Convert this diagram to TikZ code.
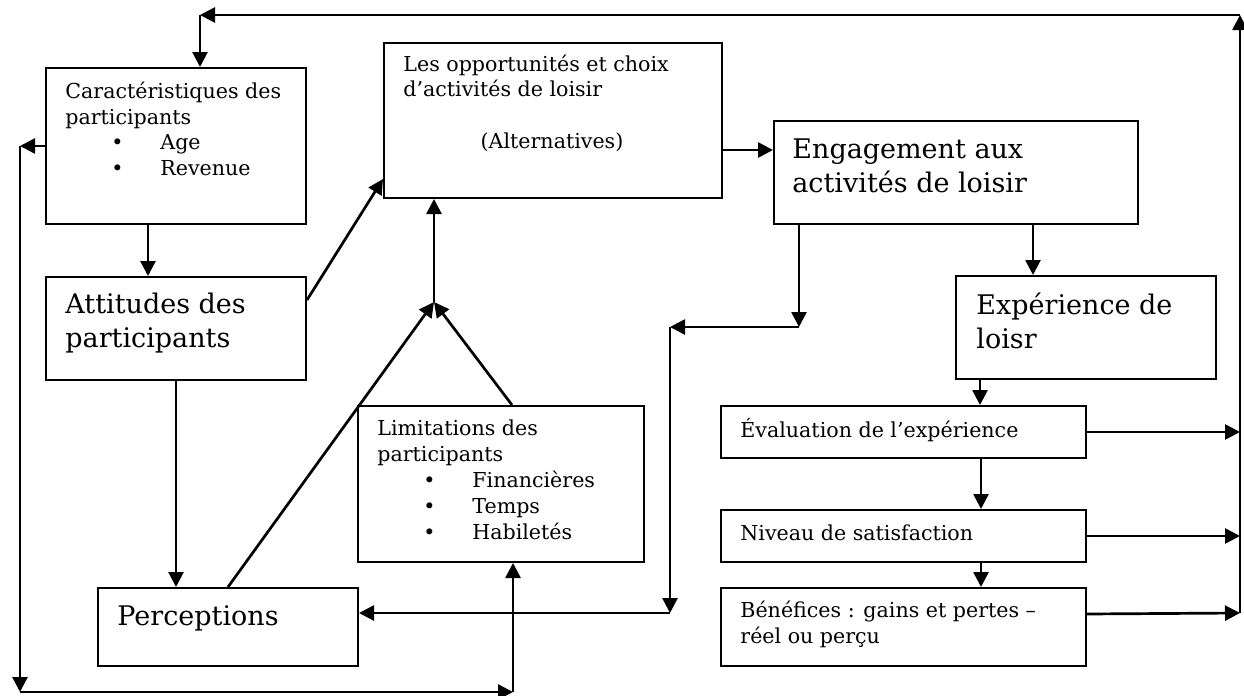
\documentclass[tikz,border=0pt]{standalone}
\usepackage{fontspec}
\setmainfont{DejaVu Serif}
\usepackage{tikz}
\usetikzlibrary{arrows.meta}
\usetikzlibrary{positioning}
\usetikzlibrary{calc}

\newcommand{\puce}[1]{\hspace*{23pt}\makebox[24.5pt][l]{\textbullet}#1}

\begin{document}
\begin{tikzpicture}[x=0.5pt, y=-0.5pt,
    box/.style={draw, line width=1pt, anchor=north west, inner sep=0pt},
    small/.style={font=\fontsize{10.3}{12.75}\selectfont, align=left, inner sep=0pt, anchor=base west},
    big/.style={font=\fontsize{13.5}{17}\selectfont, align=left, inner sep=0pt, anchor=base west},
    link/.style={line width=1.35pt, -{Triangle[length=7.5pt,width=7.5pt]}}]

    \useasboundingbox (0,0) rectangle (1244,696);

    % boxes
    \node[box, minimum width=130pt, minimum height=78pt] (carac) at (45,67) {};
    \node[box, minimum width=169pt, minimum height=77.5pt] (opp) at (383,42) {};
    \node[box, minimum width=182pt, minimum height=51.5pt] (eng) at (773,120) {};
    \node[box, minimum width=130pt, minimum height=51.5pt] (att) at (45,276) {};
    \node[box, minimum width=130pt, minimum height=39pt] (perc) at (97,587) {};
    \node[box, minimum width=143pt, minimum height=78pt] (lim) at (357,405) {};
    \node[box, minimum width=130pt, minimum height=51.5pt] (exp) at (955,275) {};
    \node[box, minimum width=182.5pt, minimum height=26pt] (evl) at (720,405) {};
    \node[box, minimum width=182.5pt, minimum height=26pt] (niv) at (720,509) {};
    \node[box, minimum width=182.5pt, minimum height=39pt] (ben) at (720,587) {};

    % texts (placed on the baseline of their last line)
    \node[small] (caracTxt) at (65,175) {Caractéristiques des\\participants\\\puce{Age}\\\puce{Revenue}};
    \node[small] (oppTxt) at (403,97) {Les opportunités et choix\\d’activités de loisir};
    \node[small, anchor=base] (altTxt) at (552,148) {(Alternatives)};
    \node[big] (engTxt) at (792,192) {Engagement aux\\activités de loisir};
    \node[big] (attTxt) at (65,347) {Attitudes des\\participants};
    \node[big] (expTxt) at (976,348) {Expérience de\\loisr};
    \node[big] (percTxt) at (117,625) {Perceptions};
    \node[small, font=\fontsize{10.3}{13}\selectfont] (limTxt) at (377,539) {Limitations des\\participants\\\puce{Financières}\\\puce{Temps}\\\puce{Habiletés}};
    \node[small] (evlTxt) at (740,437) {Évaluation de l’expérience};
    \node[small] (nivTxt) at (740,540) {Niveau de satisfaction};
    \node[small] (benTxt) at (740,643) {Bénéfices : gains et pertes –\\réel ou perçu};

    % corners of the loops
    \coordinate (tl) at (200,15);
    \coordinate (tr) at (1240,15);
    \coordinate (rb) at (1240,613);
    \coordinate (lft) at (20,146);
    \coordinate (lb) at (20,692);
    \coordinate (mb) at (513,692);
    \coordinate (ea) at (799,327);
    \coordinate (eb) at (670,327);
    \coordinate (ec) at (670,613);
    \coordinate (join) at (434,302);

    % feedback along the top
    \draw[link] (rb) -- (tr);
    \draw[link] (tr) -- (tl);
    \draw[link] (tl) -- (tl |- carac.north);

    % feedback along the left and bottom
    \draw[link] (carac.west) -- (lft);
    \draw[link] (lft) -- (lb);
    \draw[link] (lb) -- (mb);
    \draw[link] (mb) -- (mb |- lim.south);

    % left part
    \draw[link] ([xshift=51.5pt]carac.south west) -- ([xshift=51.5pt]att.north west);
    \draw[link] (att.south) -- (att.south |- perc.north);
    \draw[link] ([yshift=-12pt]att.north east) -- ([yshift=10pt]opp.south west);
    \draw[link] ([xshift=65.5pt]perc.north west) -- (join);
    \draw[link] ([xshift=77.5pt]lim.north west) -- (join);
    \draw[link] (join) -- (join |- opp.south);
    \draw[link] ([yshift=24.5pt]opp.south east) -- ([yshift=24.5pt]opp.south east -| eng.west);

    % engagement back to perceptions
    \draw[link] ([xshift=13pt]eng.south west) -- (ea);
    \draw[link] (ea) -- (eb);
    \draw[link] (eb) -- (ec);
    \draw[link] (ec) -- (ec -| perc.east);

    % right column
    \draw[link] ([xshift=130pt]eng.south west) -- ([xshift=130pt]eng.south west |- exp.north);
    \draw[link] ([xshift=12.5pt]exp.south west) -- ([xshift=12.5pt]exp.south west |- evl.north);
    \draw[link] ([xshift=130.5pt]evl.south west) -- ([xshift=130.5pt]evl.south west |- niv.north);
    \draw[link] ([xshift=130.5pt]niv.south west) -- ([xshift=130.5pt]niv.south west |- ben.north);
    \draw[link] (evl.east) -- (evl.east -| tr);
    \draw[link] (niv.east) -- (niv.east -| tr);
    \draw[link] ([yshift=6.5pt]ben.east) -- (rb);
\end{tikzpicture}
\end{document}
